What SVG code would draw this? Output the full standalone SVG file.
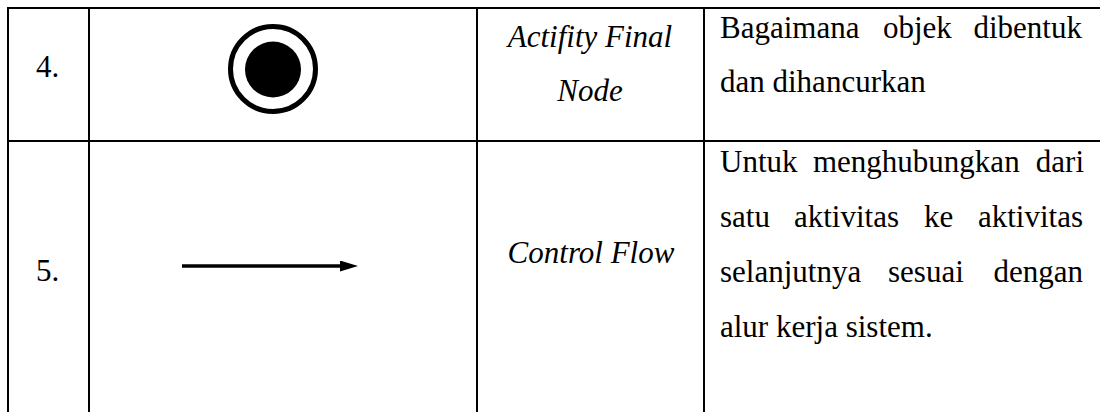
<svg xmlns="http://www.w3.org/2000/svg" width="1100" height="412" viewBox="0 0 1100 412">
  <style>
    .grid { stroke: #000; stroke-width: 2; fill: none; }
    .t { font-family: "Liberation Serif", "Times New Roman", serif; font-size: 31px; fill: #000; }
    .it { font-style: italic; }
  </style>
  <defs>
    <marker id="arrowhead" markerUnits="userSpaceOnUse" viewBox="0 0 18 11" markerWidth="18" markerHeight="11" refX="0" refY="5.5" orient="auto">
      <path d="M0,0 L18,5.5 L0,11 Z" fill="#000"/>
    </marker>
  </defs>
  <rect width="1100" height="412" fill="#fff"/>
  <g id="table-grid" class="grid">
    <line x1="7" y1="8" x2="1100" y2="8"/>
    <line x1="7" y1="141" x2="1100" y2="141"/>
    <line x1="8" y1="7" x2="8" y2="412"/>
    <line x1="89" y1="7" x2="89" y2="412"/>
    <line x1="477" y1="7" x2="477" y2="412"/>
    <line x1="704" y1="7" x2="704" y2="412"/>
  </g>
  <g id="row-4">
    <text class="t" x="36" y="77">4.</text>
    <g id="activity-final-node">
      <circle cx="273" cy="69" r="42.5" fill="none" stroke="#000" stroke-width="5"/>
      <circle cx="273" cy="69.5" r="28" fill="#000"/>
    </g>
    <text class="t it" x="590" y="47" text-anchor="middle">Actifity Final</text>
    <text class="t it" x="590" y="101" text-anchor="middle">Node</text>
    <text class="t" x="720" y="38">Bagaimana</text>
    <text class="t" x="883" y="38">objek</text>
    <text class="t" x="1082" y="38" text-anchor="end">dibentuk</text>
    <text class="t" x="720" y="92">dan dihancurkan</text>
  </g>
  <g id="row-5">
    <text class="t" x="36" y="281">5.</text>
    <text class="t it" x="591" y="263" text-anchor="middle">Control Flow</text>
    <text class="t" x="720" y="172">Untuk</text>
    <text class="t" x="813" y="172">menghubungkan</text>
    <text class="t" x="1084" y="172" text-anchor="end">dari</text>
    <text class="t" x="720" y="227">satu</text>
    <text class="t" x="794" y="227">aktivitas</text>
    <text class="t" x="924" y="227">ke</text>
    <text class="t" x="1083" y="227" text-anchor="end">aktivitas</text>
    <text class="t" x="720" y="282">selanjutnya</text>
    <text class="t" x="888" y="282">sesuai</text>
    <text class="t" x="1083" y="282" text-anchor="end">dengan</text>
    <text class="t" x="720" y="337">alur kerja sistem.</text>
  </g>
  <g id="connectors">
    <line id="control-flow" x1="182" y1="266" x2="340" y2="266" stroke="#000" stroke-width="3.5" marker-end="url(#arrowhead)"/>
  </g>
</svg>
